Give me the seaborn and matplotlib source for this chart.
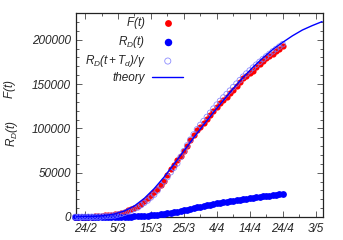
import numpy as np
import pandas as pd
import matplotlib
matplotlib.use("Agg")
import matplotlib.pyplot as plt
import seaborn as sns
from matplotlib.ticker import MultipleLocator, FixedLocator

# ---------------- data (day index: 0 = 24/2) ----------------
days = list(range(-3, 61))
cases = [20, 79, 150, 229, 322, 400, 650, 888, 1128,
         1694, 2036, 2502, 3089, 3858, 4636, 5883, 7375, 9172, 10149,
         12462, 15113, 17660, 21157, 24747, 27980, 31506, 35713, 41035, 47021,
         53578, 59138, 63927, 69176, 74386, 80539, 86498, 92472, 97689, 101739,
         105792,
         110574, 115242, 119827, 124632, 128948, 132547, 135586, 139422, 143626,
         147577, 152271, 156363, 159516, 162488, 165155, 168941, 172434, 175925,
         178972, 181228, 183957, 187327, 189973, 192994]
deaths = [1, 2, 3, 7, 10, 12, 17, 21, 29,
          34, 52, 79, 107, 148, 197, 233, 366, 463, 631,
          827, 1016, 1266, 1441, 1809, 2158, 2503, 2978, 3405, 4032,
          4825, 5476, 6077, 6820, 7503, 8165, 9134, 10023, 10779, 11591,
          12428,
          13155, 13915, 14681, 15362, 15887, 16523, 17127, 17669, 18279,
          18849, 19468, 19899, 20465, 21067, 21645, 22170, 22745, 23227,
          23660, 24114, 24648, 25085, 25549, 25969]

shift_days = list(range(-3, 61))
shifted = [52, 74, 89, 126, 156, 215, 252, 385, 585, 793,
           1096, 1459, 1726, 2711, 3430, 4674, 6126, 7526, 9378, 10674,
           13400, 15985, 18541, 22059, 25222, 29867, 35741, 40563, 45015, 50519,
           55578, 60481, 67659, 74244,
           80800, 87300, 93200, 98900, 103900, 108300, 112900, 117600, 122300, 126800,
           131000, 134900, 138700, 142600, 146600, 150500, 154400, 158300, 161900, 165300,
           168600, 171900, 175100, 178200, 181200, 184100, 186900, 189600, 192300, 195000]

theory_days = list(range(-3, 73, 3))
theory = [100, 300, 700, 1600, 3400, 6800, 12500, 21000, 32000, 45000,
          59500, 74500, 89500, 104000, 118000, 131500, 145000, 157500, 169000,
          179500, 189000, 197000, 204500, 211000, 216000, 220500]

xtick_pos = [0, 10, 20, 30, 40, 50, 60, 70]
xtick_labels = ["24/2", "5/3", "15/3", "25/3", "4/4", "14/4", "24/4", "3/5"]
ytick_pos = [0, 50000, 100000, 150000, 200000]

# ---------------- style ----------------
sns.set_style("ticks")
plt.rcParams["font.family"] = ["Liberation Sans", "DejaVu Sans"]
plt.rcParams["font.style"] = "italic"
plt.rcParams["mathtext.fontset"] = "custom"
plt.rcParams["mathtext.rm"] = "Liberation Sans:italic"
plt.rcParams["mathtext.it"] = "Liberation Sans:italic"
plt.rcParams["mathtext.sf"] = "Liberation Sans:italic"

fig = plt.figure(figsize=(3.43, 2.40), dpi=100)
ax = fig.add_axes([0.223, 0.096, 0.718, 0.849])

df_c = pd.DataFrame({"t": days, "F": cases, "R": deaths})
df_s = pd.DataFrame({"t": shift_days, "S": shifted})
df_th = pd.DataFrame({"t": theory_days, "T": theory})

sns.scatterplot(data=df_c, x="t", y="F", color="#ff0000", s=20, linewidth=0,
                label="$F(t)$", ax=ax, clip_on=False, zorder=3)
sns.scatterplot(data=df_c, x="t", y="R", color="#0000ff", s=24, linewidth=0,
                label="$R_D(t)$", ax=ax, clip_on=False, zorder=4)
sns.scatterplot(data=df_s, x="t", y="S", facecolor="none", edgecolor="#7878ff",
                s=16, linewidth=0.6, alpha=0.85, label="$R_D(t+T_d)/\\gamma$", ax=ax,
                clip_on=False, zorder=5)
sns.lineplot(data=df_th, x="t", y="T", color="#0000ff", linewidth=1.0,
             label="theory", ax=ax, zorder=6)

ax.set_xlim(-2.6, 72.2)
ax.set_ylim(0, 230000)
ax.xaxis.set_major_locator(FixedLocator(xtick_pos))
ax.set_xticklabels(xtick_labels)
ax.xaxis.set_minor_locator(MultipleLocator(5))
ax.yaxis.set_major_locator(FixedLocator(ytick_pos))
ax.set_yticklabels([str(v) for v in ytick_pos])
ax.yaxis.set_minor_locator(MultipleLocator(10000))
ax.tick_params(which="both", direction="in", top=True, right=True,
               width=0.6, color="#444444", labelsize=8.5)
ax.tick_params(which="major", length=4)
ax.tick_params(which="minor", length=2)
ax.tick_params(axis="x", pad=4)
ax.tick_params(axis="y", pad=4)
for sp in ax.spines.values():
    sp.set_linewidth(0.9)
    sp.set_color("#222222")
ax.set_xlabel("")
ax.set_ylabel("")

fig.text(0.030, 0.629, "$F(t)$", rotation=90, ha="center", va="center", fontsize=8.5)
fig.text(0.035, 0.443, "$R_D(t)$", rotation=90, ha="center", va="center", fontsize=8.5)

leg = ax.legend(markerfirst=False, frameon=False, loc="upper right",
                bbox_to_anchor=(0.433, 0.99), borderpad=0, borderaxespad=0,
                handlelength=2.6, handletextpad=0.6, labelspacing=0.25,
                fontsize=8.5, markerscale=1.1)

fig.savefig("out.png", dpi=100)
